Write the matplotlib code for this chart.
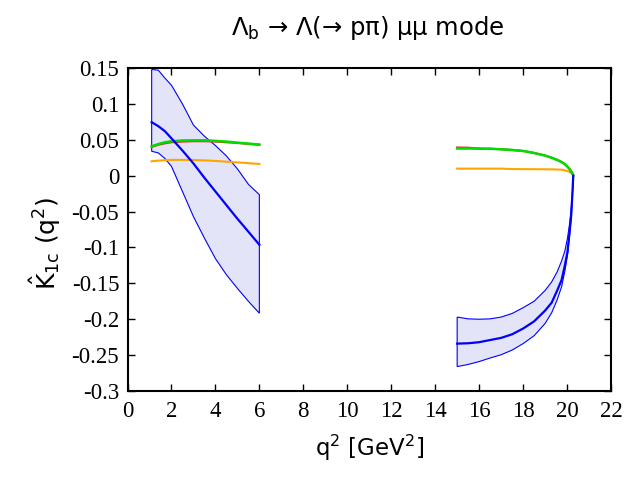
import numpy as np
import matplotlib
matplotlib.use("Agg")
import matplotlib.pyplot as plt

# -----------------------------
# DATA
# -----------------------------
# low q2 bin
q2_low = [1.1, 1.4, 1.7, 2.0, 2.5, 3.0, 3.5, 4.0, 4.5, 5.0, 5.5, 6.0]
k1c_low = [0.0745, 0.069, 0.062, 0.052, 0.035, 0.017, -0.003, -0.022, -0.041, -0.060, -0.078, -0.0963]
k1c_low_up = [0.148, 0.147, 0.136, 0.126, 0.100, 0.0705, 0.055, 0.042, 0.0275, 0.0095, -0.012, -0.0265]
k1c_low_dn = [0.034, 0.0317, 0.024, 0.013, -0.022, -0.057, -0.087, -0.1155, -0.138, -0.157, -0.175, -0.1916]
green_low = [0.041, 0.044, 0.0465, 0.048, 0.049, 0.0493, 0.0493, 0.0485, 0.0475, 0.046, 0.0447, 0.0433]
red_low = [0.040, 0.043, 0.045, 0.0465, 0.0475, 0.048, 0.048, 0.0475, 0.0465, 0.0455, 0.0443, 0.0430]
orange_low = [0.020, 0.021, 0.0215, 0.022, 0.022, 0.0218, 0.0213, 0.0205, 0.0195, 0.0185, 0.0174, 0.0163]

# high q2 bin
q2_high = [15.0, 15.5, 16.0, 16.5, 17.0, 17.5, 18.0, 18.5, 19.0, 19.3, 19.55, 19.75, 19.9,
           20.02, 20.12, 20.19, 20.24, 20.27, 20.28]
k1c_high = [-0.234, -0.2335, -0.232, -0.229, -0.226, -0.221, -0.213, -0.203, -0.188, -0.177, -0.160,
            -0.1455, -0.125, -0.106, -0.077, -0.055, -0.027, -0.008, 0.0]
k1c_high_up = [-0.197, -0.1995, -0.200, -0.1995, -0.197, -0.192, -0.184, -0.175, -0.160, -0.148, -0.134,
               -0.119, -0.105, -0.087, -0.066, -0.045, -0.025, -0.010, 0.0]
k1c_high_dn = [-0.266, -0.263, -0.259, -0.254, -0.2495, -0.243, -0.234, -0.223, -0.206, -0.191, -0.173,
               -0.155, -0.133, -0.111, -0.082, -0.058, -0.032, -0.012, 0.0]
green_high = [0.0378, 0.0378, 0.0377, 0.0375, 0.0368, 0.0358, 0.0344, 0.0316, 0.028, 0.025, 0.022,
              0.019, 0.016, 0.0125, 0.009, 0.006, 0.0035, 0.0015, 0.0]
red_high = [0.0393, 0.039, 0.0377, 0.0375, 0.0368, 0.0358, 0.0344, 0.0316, 0.028, 0.025, 0.022,
            0.019, 0.016, 0.0125, 0.009, 0.006, 0.0035, 0.0015, 0.0]
orange_high = [0.0098, 0.0098, 0.0098, 0.0098, 0.0098, 0.0092, 0.0091, 0.009, 0.0089, 0.0088, 0.0086,
               0.0083, 0.0075, 0.0065, 0.005, 0.0035, 0.002, 0.001, 0.0]

x_ticks = list(range(0, 23, 2))
y_ticks = [0.15, 0.1, 0.05, 0, -0.05, -0.1, -0.15, -0.2, -0.25, -0.3]
y_tick_labels = ["0.15", "0.1", "0.05", "0", "-0.05", "-0.1", "-0.15", "-0.2", "-0.25", "-0.3"]

# -----------------------------
# PLOT
# -----------------------------
fig = plt.figure(figsize=(6.4, 4.8), dpi=100)
ax = fig.add_axes([127.5 / 640, 1 - 391 / 480, 483.5 / 640, 323 / 480])

band_face = "#e4e4f9"
for q, c, up, dn, g, r, o in [
    (q2_low, k1c_low, k1c_low_up, k1c_low_dn, green_low, red_low, orange_low),
    (q2_high, k1c_high, k1c_high_up, k1c_high_dn, green_high, red_high, orange_high),
]:
    q = np.array(q)
    poly_x = np.concatenate([q, q[::-1]])
    poly_y = np.concatenate([up, dn[::-1]])
    ax.fill(poly_x, poly_y, facecolor=band_face, edgecolor="blue", lw=0.8, zorder=1)
    ax.plot(q, o, color="#ffa500", lw=1.5, zorder=2)
    ax.plot(q, r, color="#e03020", lw=1.5, zorder=3)
    ax.plot(q, g, color="#00dd00", lw=1.8, zorder=4)
    ax.plot(q, c, color="blue", lw=1.6, zorder=5)

ax.set_xlim(0, 22)
ax.set_ylim(-0.3, 0.15)
ax.set_xticks(x_ticks)
ax.set_yticks(y_ticks)
ax.set_yticklabels(y_tick_labels)

for s in ax.spines.values():
    s.set_linewidth(1.5)
ax.tick_params(direction="in", length=5, width=1, top=True, right=True, labelsize=16.5)
ax.tick_params(axis="x", pad=7)
ax.tick_params(axis="y", pad=6)
for lab in ax.get_xticklabels() + ax.get_yticklabels():
    lab.set_family("Liberation Serif")

ax.set_xlabel("q$^2$ [GeV$^2$]", fontsize=16.5, labelpad=8)
ax.text(-0.171, 0.457, r"$\hat{\mathrm{K}}_{\mathrm{1c}}$ (q$^2$)", transform=ax.transAxes,
        rotation=90, ha="center", va="center", fontsize=18)
fig.text(368 / 640, 1 - 35 / 480, r"Λ$_\mathrm{b}$ → Λ(→ pπ) μμ mode", ha="center", va="baseline",
         fontsize=17.5)

fig.savefig("out.png", dpi=100)
